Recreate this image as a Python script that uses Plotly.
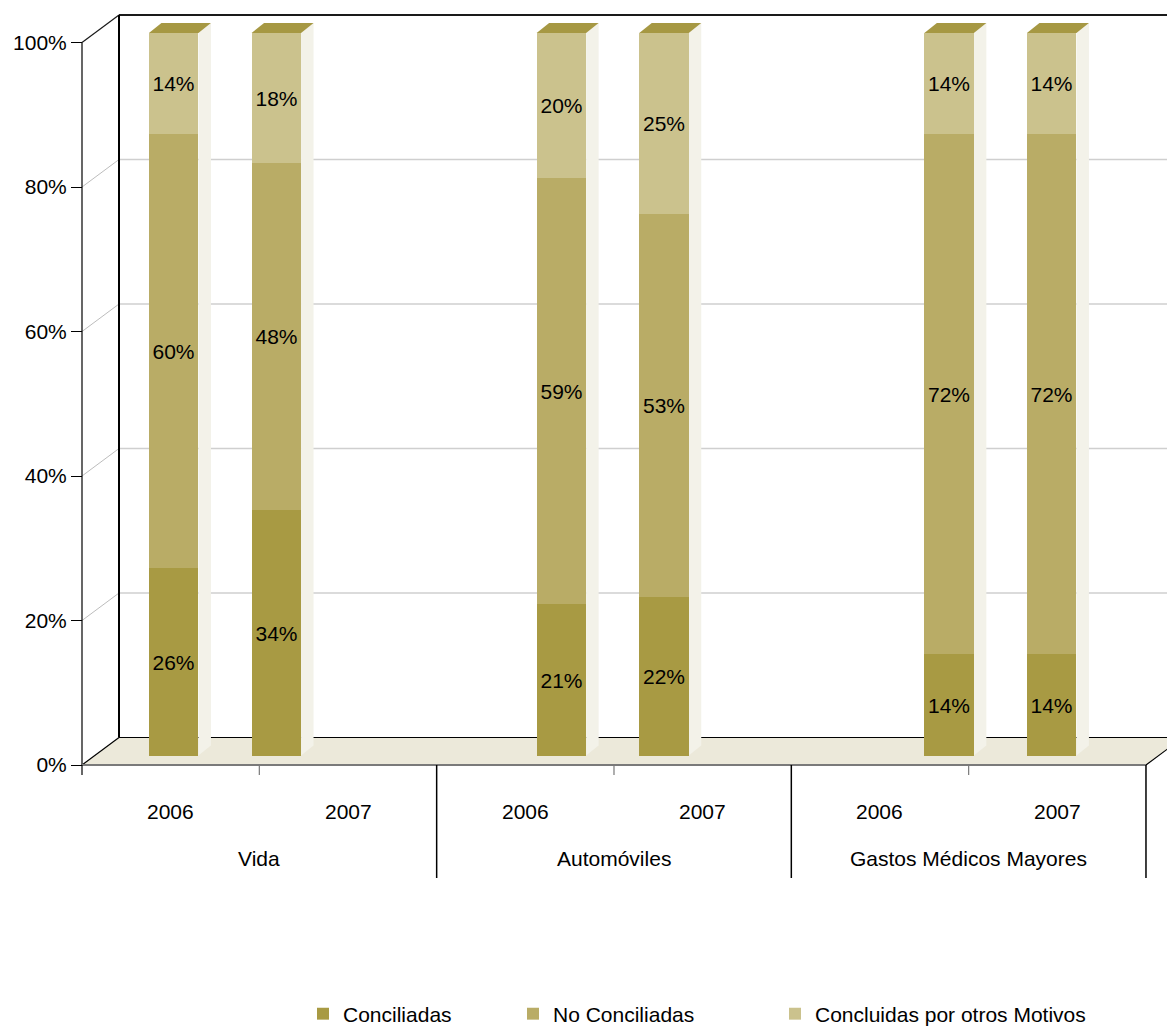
import plotly.graph_objects as go

# ---------------- data ----------------
groups = ["Vida", "Automóviles", "Gastos Médicos Mayores"]
years = ["2006", "2007"]
series_names = ["Conciliadas", "No Conciliadas", "Concluidas por otros Motivos"]
conciliadas = [26, 34, 21, 22, 14, 14]
no_conciliadas = [60, 48, 59, 53, 72, 72]
concluidas_otros = [14, 18, 20, 25, 14, 14]
y_ticks = [0, 20, 40, 60, 80, 100]

# ---------------- styles / geometry ----------------
colors = ["#A89A43", "#B9AC66", "#CBC28D"]
SIDE = "#F3F2E9"
TOP = "#A69843"
FLOOR = "#ECE9DA"
FONT = "Liberation Sans, Arial, sans-serif"
FS = 21

OFF = 8                      # default page margin of the html body
W, H = 1175 - OFF, 1029 - OFF
SX = 177.33                  # px per category slot on the front plane
S = 7.225                    # px per percent
X0 = 82 - OFF                # px of front value axis
Y_BAR0 = 755.5 - OFF         # px of 0% in bar plane
Y_FRONT0 = 765 - OFF         # px of 0% in front plane
Y_BACK0 = 737.5 - OFF        # px of 0% in back plane
DEPTH_X = 37                 # px depth offset of back wall

x_range = [-X0 / SX, (W - X0) / SX]
y_range = [(Y_BAR0 - H) / S, Y_BAR0 / S]
y2_range = [(Y_FRONT0 - H) / S, Y_FRONT0 / S]

FRONT_DY = (Y_BAR0 - Y_FRONT0) / S
BACK_DY = (Y_BAR0 - Y_BACK0) / S
BACK_DX = DEPTH_X / SX
XMAX = x_range[1]

BAR_W = 49.5 / SX
FIRST = (173.7 - 82) / SX
INNER = 102.6 / SX
GROUP_STEP = 387.7 / SX
BAR_DX = 12.5 / SX
BAR_DY = 10 / S

n_cat = len(groups) * len(years)
xpos = [FIRST + g * GROUP_STEP + k * INNER
        for g in range(len(groups)) for k in range(len(years))]

series = [conciliadas, no_conciliadas, concluidas_otros]
legend_ids = ["legend", "legend2", "legend3"]
legend_text_x = [343, 553, 815]   # screen px where legend texts start

fig = go.Figure()
for name, vals, col, lid in zip(series_names, series, colors, legend_ids):
    fig.add_trace(go.Bar(
        x=xpos, y=vals, name=name, width=BAR_W, legend=lid,
        marker=dict(color=col, line=dict(width=0)),
        text=[f"{v}%" for v in vals], textposition="inside",
        insidetextanchor="middle", textangle=0, constraintext="none",
        textfont=dict(family=FONT, size=FS, color="black"),
        hoverinfo="skip",
    ))
# invisible trace so the front value axis exists
fig.add_trace(go.Scatter(x=[None], y=[None], yaxis="y2", showlegend=False,
                         hoverinfo="skip"))

shapes = []


def line(x0, y0, x1, y1, color, width):
    shapes.append(dict(type="line", xref="x", yref="y", layer="below",
                       x0=x0, y0=y0, x1=x1, y1=y1,
                       line=dict(color=color, width=width)))


def poly(pts, fill):
    d = "M " + " L ".join(f"{a},{b}" for a, b in pts) + " Z"
    shapes.append(dict(type="path", xref="x", yref="y", layer="below",
                       path=d, fillcolor=fill, line=dict(width=0)))


# floor
poly([(0, FRONT_DY), (BACK_DX, BACK_DY), (n_cat + BACK_DX + 1, BACK_DY),
      (n_cat + 1, FRONT_DY)], FLOOR)
poly([(n_cat, FRONT_DY), (n_cat + BACK_DX, BACK_DY), (n_cat + 1, BACK_DY),
      (n_cat + 1, FRONT_DY)], "white")

# gridlines on back wall and left wall
for v in y_ticks[1:-1]:
    line(BACK_DX, v + BACK_DY, XMAX, v + BACK_DY, "#CFCFCF", 1.5)
    line(0, v + FRONT_DY, BACK_DX, v + BACK_DY, "#BDBDBD", 1)
top = y_ticks[-1]
line(BACK_DX, top + BACK_DY, XMAX, top + BACK_DY, "#1A1A1A", 2)
line(0, top + FRONT_DY, BACK_DX, top + BACK_DY, "#1A1A1A", 1.2)
# back wall left edge
line(BACK_DX, BACK_DY, BACK_DX, top + BACK_DY, "#000000", 2)
# front value axis line
line(0, FRONT_DY, 0, top + FRONT_DY, "#000000", 1.2)

# floor edges
line(BACK_DX, BACK_DY, XMAX, BACK_DY, "#000000", 1.2)
line(0, FRONT_DY, BACK_DX, BACK_DY, "#000000", 1.2)
line(n_cat, FRONT_DY, n_cat + BACK_DX, BACK_DY, "#000000", 1.2)
line(0, FRONT_DY, n_cat, FRONT_DY, "#7A7A7A", 2)

# category ticks / group dividers
tick_short = 10 / S
div_long = 113 / S
for i in range(n_cat + 1):
    if i % len(years) == 0 and i > 0:
        line(i, FRONT_DY, i, FRONT_DY - div_long, "#000000", 1.5)
    else:
        line(i, FRONT_DY, i, FRONT_DY - tick_short,
             "#000000" if i == 0 else "#7A7A7A", 1.2)

# 3D faces of bars
for j, xc in enumerate(xpos):
    total = sum(s[j] for s in series)
    xl, xr = xc - BAR_W / 2, xc + BAR_W / 2
    poly([(xr, 0), (xr + BAR_DX, BAR_DY), (xr + BAR_DX, total + BAR_DY),
          (xr, total)], SIDE)
    poly([(xl, total), (xl + BAR_DX, total + BAR_DY),
          (xr + BAR_DX, total + BAR_DY), (xr, total)], TOP)

annotations = []
for i in range(n_cat):
    annotations.append(dict(x=i + 0.5, y=(Y_BAR0 - (811 - OFF)) / S,
                            xref="x", yref="y",
                            text=years[i % len(years)], showarrow=False,
                            font=dict(family=FONT, size=FS, color="black")))
for g, gname in enumerate(groups):
    annotations.append(dict(x=len(years) * g + len(years) / 2,
                            y=(Y_BAR0 - (858 - OFF)) / S, xref="x", yref="y",
                            text=gname, showarrow=False,
                            font=dict(family=FONT, size=FS, color="black")))

legend_common = dict(orientation="h", xanchor="left", yanchor="middle",
                     y=1 - (1014 - OFF) / H,
                     font=dict(family=FONT, size=FS, color="black"),
                     bgcolor="rgba(0,0,0,0)", borderwidth=0)
legends = {}
for lid, tx in zip(legend_ids, legend_text_x):
    legends[lid] = dict(legend_common, x=(tx - OFF - 40) / W)

fig.update_layout(
    width=W, height=H,
    margin=dict(l=0, r=0, t=0, b=0, autoexpand=False),
    paper_bgcolor="white", plot_bgcolor="white",
    barmode="stack", bargap=0,
    font=dict(family=FONT, size=FS, color="black"),
    xaxis=dict(range=x_range, visible=False, fixedrange=True),
    yaxis=dict(range=y_range, visible=False, fixedrange=True),
    yaxis2=dict(range=y2_range, overlaying="y", anchor="free",
                position=X0 / W, side="left",
                tickvals=y_ticks, ticktext=[f"{v}%" for v in y_ticks],
                ticks="outside", ticklen=11, tickcolor="black", tickwidth=1,
                showgrid=False, zeroline=False, showline=False,
                tickfont=dict(family=FONT, size=FS, color="black")),
    shapes=shapes,
    annotations=annotations,
    showlegend=True,
    **legends,
)

fig.write_html("out.html")
